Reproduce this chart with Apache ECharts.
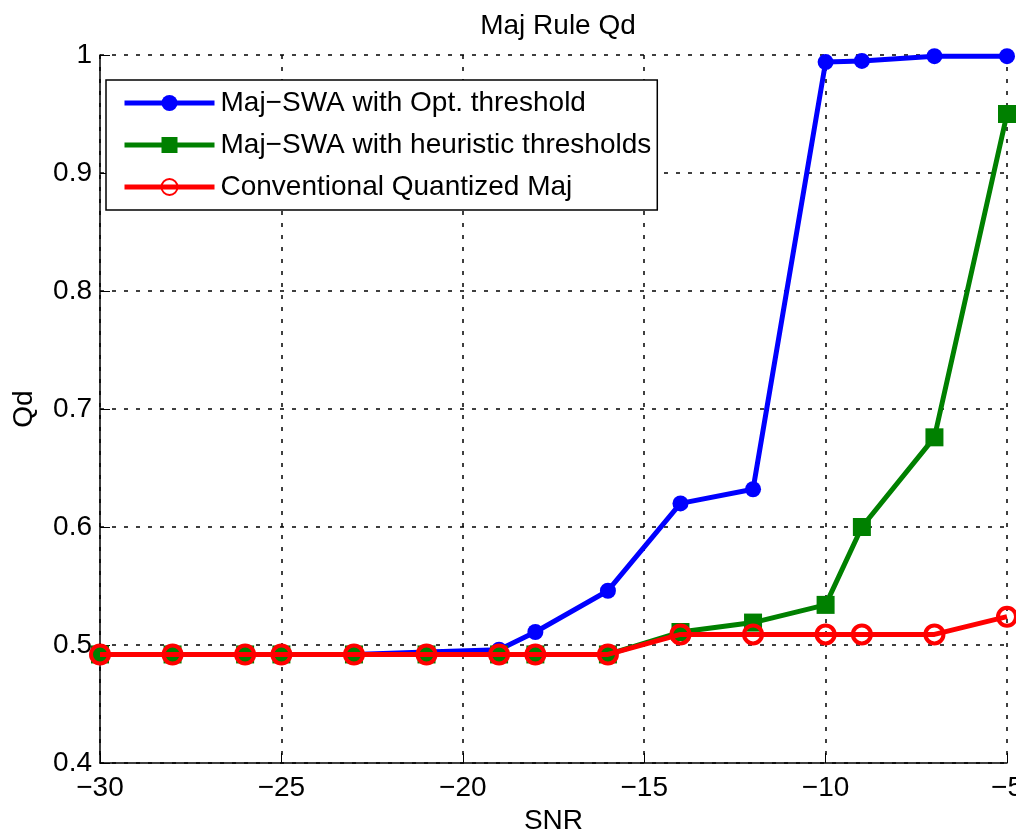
<!DOCTYPE html>
<html>
<head>
<meta charset="utf-8">
<script src="https://cdn.jsdelivr.net/npm/echarts@6/dist/echarts.min.js"></script>
<style>
  html, body { margin: 0; padding: 0; background: #fff; }
  #chart { width: 1016px; height: 830px; }
</style>
</head>
<body>
<div id="chart"></div>
<script>
// SNR points shared by all three curves
const snr = [-30, -28, -26, -25, -23, -21, -19, -18, -16, -14, -12, -10, -9, -7, -5]
const optThreshold = [0.492, 0.492, 0.492, 0.492, 0.492, 0.494, 0.496, 0.511, 0.546, 0.620, 0.632, 0.994, 0.995, 0.999, 0.999]
const heuristicThresholds = [0.492, 0.492, 0.492, 0.492, 0.492, 0.492, 0.492, 0.492, 0.492, 0.511, 0.519, 0.534, 0.600, 0.676, 0.950]
const conventional = [0.492, 0.492, 0.492, 0.492, 0.492, 0.492, 0.492, 0.492, 0.492, 0.509, 0.509, 0.509, 0.509, 0.509, 0.524]
const seriesNames = ['Maj\u2212SWA with Opt. threshold', 'Maj\u2212SWA with heuristic thresholds', 'Conventional Quantized Maj']

const font = 'Liberation Sans, Arial, sans-serif'
const pairs = (ys) => snr.map((x, i) => [x, ys[i]])

const chart = echarts.init(document.getElementById('chart'))

const gridLine = { show: true, lineStyle: { color: '#000', type: [4, 8], width: 1.5 } }

chart.setOption({
  animation: false,
  backgroundColor: '#fff',
  title: {
    text: 'Maj Rule Qd',
    left: 553,
    textAlign: 'center',
    top: 7,
    textStyle: { fontFamily: font, fontSize: 28, fontWeight: 'normal', color: '#000' }
  },
  legend: {
    left: 106,
    top: 80,
    orient: 'vertical',
    data: seriesNames,
    backgroundColor: '#fff',
    borderColor: '#000',
    borderWidth: 1.5,
    padding: [9, 6, 9, 16],
    itemGap: 14,
    itemWidth: 90,
    itemHeight: 20,
    lineStyle: { width: 5 },
    textStyle: { fontFamily: font, fontSize: 28, color: '#000', padding: [0, 0, 0, 1] }
  },
  grid: {
    left: 100,
    right: 9,
    top: 55,
    bottom: 67,
    containLabel: false,
    outerBoundsMode: 'none'
  },
  xAxis: {
    type: 'value',
    min: -30,
    max: -5,
    interval: 5,
    name: 'SNR',
    nameLocation: 'middle',
    nameGap: 42,
    nameTextStyle: { fontFamily: font, fontSize: 28, color: '#000' },
    axisLine: { onZero: false, lineStyle: { color: '#000', width: 1.5 } },
    axisTick: { inside: true, length: 10, lineStyle: { color: '#000' } },
    axisLabel: {
      fontFamily: font, fontSize: 28, color: '#000', margin: 11,
      formatter: (v) => String(v).replace('-', '\u2212')
    },
    splitLine: gridLine
  },
  yAxis: {
    type: 'value',
    min: 0.4,
    max: 1,
    interval: 0.1,
    name: 'Qd',
    nameLocation: 'middle',
    nameGap: 62,
    nameTextStyle: { fontFamily: font, fontSize: 28, color: '#000' },
    axisLine: { lineStyle: { color: '#000', width: 1.5 } },
    axisTick: { inside: true, length: 10, lineStyle: { color: '#000' } },
    axisLabel: {
      fontFamily: font, fontSize: 28, color: '#000', margin: 8,
      formatter: (v) => String(Math.round(v * 10) / 10)
    },
    splitLine: gridLine
  },
  series: [
    {
      name: seriesNames[0],
      type: 'line',
      data: pairs(optThreshold),
      symbol: 'circle',
      symbolSize: 16,
      z: 3,
      lineStyle: { color: '#0000ff', width: 5 },
      itemStyle: { color: '#0000ff' }
    },
    {
      name: seriesNames[1],
      type: 'line',
      data: pairs(heuristicThresholds),
      symbol: 'rect',
      symbolSize: 18,
      z: 4,
      lineStyle: { color: '#008000', width: 5 },
      itemStyle: { color: '#008000' }
    },
    {
      name: seriesNames[2],
      type: 'line',
      data: pairs(conventional),
      symbol: 'circle',
      symbolSize: 18,
      z: 5,
      lineStyle: { color: '#ff0000', width: 5 },
      itemStyle: { color: 'rgba(255,0,0,0)', borderColor: '#ff0000', borderWidth: 4 }
    }
  ]
})
</script>
</body>
</html>
